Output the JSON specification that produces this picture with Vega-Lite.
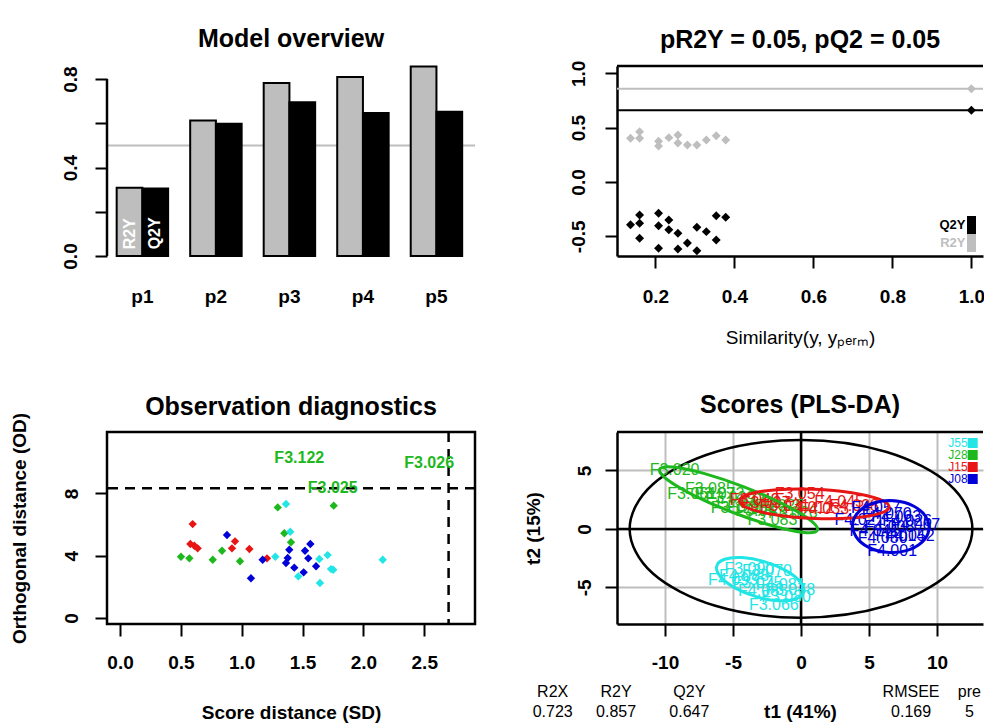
{
  "$schema": "https://vega.github.io/schema/vega-lite/v6.json",
  "background": "white",
  "padding": {"left": 8, "top": 27, "right": 0, "bottom": 0},
  "columns": 2,
  "spacing": {"row": 176, "column": 142},
  "bounds": "flush",
  "align": "each",
  "resolve": {
    "scale": {"color": "independent", "fill": "independent", "stroke": "independent"},
    "legend": {"color": "independent", "fill": "independent", "stroke": "independent"}
  },
  "datasets": {
    "overview": [
      {"comp": "p1", "metric": "R2Y", "value": 0.308}, {"comp": "p1", "metric": "Q2Y", "value": 0.305},
      {"comp": "p2", "metric": "R2Y", "value": 0.613}, {"comp": "p2", "metric": "Q2Y", "value": 0.598},
      {"comp": "p3", "metric": "R2Y", "value": 0.782}, {"comp": "p3", "metric": "Q2Y", "value": 0.695},
      {"comp": "p4", "metric": "R2Y", "value": 0.809}, {"comp": "p4", "metric": "Q2Y", "value": 0.647},
      {"comp": "p5", "metric": "R2Y", "value": 0.857}, {"comp": "p5", "metric": "Q2Y", "value": 0.652}
    ],
    "perm": [
      {"sim": 0.137, "metric": "R2Y", "value": 0.402}, {"sim": 0.160, "metric": "R2Y", "value": 0.463},
      {"sim": 0.160, "metric": "R2Y", "value": 0.402}, {"sim": 0.208, "metric": "R2Y", "value": 0.375},
      {"sim": 0.208, "metric": "R2Y", "value": 0.330}, {"sim": 0.234, "metric": "R2Y", "value": 0.408},
      {"sim": 0.257, "metric": "R2Y", "value": 0.432}, {"sim": 0.257, "metric": "R2Y", "value": 0.359},
      {"sim": 0.281, "metric": "R2Y", "value": 0.340}, {"sim": 0.305, "metric": "R2Y", "value": 0.340},
      {"sim": 0.329, "metric": "R2Y", "value": 0.386}, {"sim": 0.354, "metric": "R2Y", "value": 0.426},
      {"sim": 0.378, "metric": "R2Y", "value": 0.386}, {"sim": 1.0, "metric": "R2Y", "value": 0.857},
      {"sim": 0.137, "metric": "Q2Y", "value": -0.393}, {"sim": 0.160, "metric": "Q2Y", "value": -0.304},
      {"sim": 0.160, "metric": "Q2Y", "value": -0.380}, {"sim": 0.160, "metric": "Q2Y", "value": -0.518},
      {"sim": 0.208, "metric": "Q2Y", "value": -0.288}, {"sim": 0.208, "metric": "Q2Y", "value": -0.402},
      {"sim": 0.208, "metric": "Q2Y", "value": -0.610}, {"sim": 0.234, "metric": "Q2Y", "value": -0.350},
      {"sim": 0.234, "metric": "Q2Y", "value": -0.439}, {"sim": 0.257, "metric": "Q2Y", "value": -0.472},
      {"sim": 0.257, "metric": "Q2Y", "value": -0.616}, {"sim": 0.281, "metric": "Q2Y", "value": -0.561},
      {"sim": 0.305, "metric": "Q2Y", "value": -0.417}, {"sim": 0.305, "metric": "Q2Y", "value": -0.632},
      {"sim": 0.329, "metric": "Q2Y", "value": -0.457}, {"sim": 0.354, "metric": "Q2Y", "value": -0.310},
      {"sim": 0.354, "metric": "Q2Y", "value": -0.534}, {"sim": 0.378, "metric": "Q2Y", "value": -0.325},
      {"sim": 1.0, "metric": "Q2Y", "value": 0.66}
    ],
    "diag": [
      {"group": "J15", "sd": 0.597, "od": 6.03}, {"group": "J15", "sd": 0.578, "od": 4.75},
      {"group": "J15", "sd": 0.611, "od": 4.64}, {"group": "J15", "sd": 0.638, "od": 4.47},
      {"group": "J15", "sd": 0.945, "od": 4.92}, {"group": "J15", "sd": 0.920, "od": 4.47},
      {"group": "J15", "sd": 1.063, "od": 4.43}, {"group": "J15", "sd": 1.208, "od": 3.83},
      {"group": "J08", "sd": 0.879, "od": 5.33}, {"group": "J08", "sd": 1.172, "od": 3.74},
      {"group": "J08", "sd": 1.076, "od": 2.55}, {"group": "J08", "sd": 1.391, "od": 4.38},
      {"group": "J08", "sd": 1.564, "od": 4.75}, {"group": "J08", "sd": 1.520, "od": 4.32},
      {"group": "J08", "sd": 1.378, "od": 3.85}, {"group": "J08", "sd": 1.547, "od": 3.83},
      {"group": "J08", "sd": 1.364, "od": 3.53}, {"group": "J08", "sd": 1.432, "od": 3.23},
      {"group": "J08", "sd": 1.509, "od": 2.93}, {"group": "J08", "sd": 1.611, "od": 3.32},
      {"group": "J28", "sd": 0.501, "od": 3.93}, {"group": "J28", "sd": 0.570, "od": 3.83},
      {"group": "J28", "sd": 0.762, "od": 3.74}, {"group": "J28", "sd": 0.838, "od": 4.32},
      {"group": "J28", "sd": 0.986, "od": 3.64}, {"group": "J28", "sd": 1.296, "od": 7.10},
      {"group": "J28", "sd": 1.756, "od": 7.21}, {"group": "J28", "sd": 1.350, "od": 5.44},
      {"group": "J28", "sd": 1.405, "od": 4.86},
      {"group": "J55", "sd": 1.364, "od": 7.32}, {"group": "J55", "sd": 1.399, "od": 5.54},
      {"group": "J55", "sd": 1.276, "od": 3.93}, {"group": "J55", "sd": 1.638, "od": 3.79},
      {"group": "J55", "sd": 1.706, "od": 4.04}, {"group": "J55", "sd": 1.734, "od": 3.14},
      {"group": "J55", "sd": 1.752, "od": 3.10}, {"group": "J55", "sd": 1.465, "od": 2.67},
      {"group": "J55", "sd": 1.643, "od": 2.25}, {"group": "J55", "sd": 2.159, "od": 3.74}
    ],
    "outliers": [
      {"label": "F3.122", "group": "J28", "sd": 1.473, "od": 10.24},
      {"label": "F3.026", "group": "J28", "sd": 2.54, "od": 9.98},
      {"label": "F3.025", "group": "J28", "sd": 1.748, "od": 8.33}
    ],
    "scores": [
      {"sample": "F3.020", "group": "J28", "t1": -9.3, "t2": 5.0},
      {"sample": "F3.085", "group": "J28", "t1": -6.7, "t2": 3.4},
      {"sample": "F3.061", "group": "J28", "t1": -8.0, "t2": 3.0},
      {"sample": "F3.072", "group": "J28", "t1": -6.0, "t2": 3.0},
      {"sample": "F3.039", "group": "J28", "t1": -5.2, "t2": 2.6},
      {"sample": "F3.044", "group": "J28", "t1": -4.4, "t2": 2.2},
      {"sample": "F3.091", "group": "J28", "t1": -3.6, "t2": 1.9},
      {"sample": "F3.083", "group": "J28", "t1": -2.1, "t2": 0.8},
      {"sample": "F3.025", "group": "J28", "t1": -1.6, "t2": 2.0},
      {"sample": "F3.026", "group": "J28", "t1": -0.6, "t2": 1.4},
      {"sample": "F3.122", "group": "J28", "t1": -4.8, "t2": 1.8},
      {"sample": "F3.057", "group": "J28", "t1": -3.0, "t2": 1.5},
      {"sample": "F3.054", "group": "J15", "t1": -0.1, "t2": 3.0},
      {"sample": "F4.045", "group": "J15", "t1": 2.8, "t2": 2.3},
      {"sample": "F3.097", "group": "J15", "t1": -2.6, "t2": 2.2},
      {"sample": "F3.031", "group": "J15", "t1": -1.2, "t2": 2.0},
      {"sample": "F4.012", "group": "J15", "t1": 0.6, "t2": 1.8},
      {"sample": "F4.033", "group": "J15", "t1": 1.7, "t2": 1.7},
      {"sample": "F4.038", "group": "J15", "t1": 3.9, "t2": 2.0},
      {"sample": "F3.049", "group": "J15", "t1": -3.4, "t2": 2.5},
      {"sample": "F4.001", "group": "J08", "t1": 6.7, "t2": -1.9},
      {"sample": "F4.067", "group": "J08", "t1": 8.4, "t2": 0.3},
      {"sample": "F4.021", "group": "J08", "t1": 4.3, "t2": 0.8},
      {"sample": "F4.057", "group": "J08", "t1": 5.5, "t2": 1.8},
      {"sample": "F4.008", "group": "J08", "t1": 6.5, "t2": 0.2},
      {"sample": "F4.014", "group": "J08", "t1": 7.3, "t2": -0.6},
      {"sample": "F4.026", "group": "J08", "t1": 7.8, "t2": 0.7},
      {"sample": "F4.030", "group": "J08", "t1": 6.0, "t2": -0.8},
      {"sample": "F4.041", "group": "J08", "t1": 5.4, "t2": -0.2},
      {"sample": "F4.052", "group": "J08", "t1": 8.0, "t2": -0.6},
      {"sample": "F4.063", "group": "J08", "t1": 7.0, "t2": 1.0},
      {"sample": "F4.070", "group": "J08", "t1": 6.3, "t2": 1.3},
      {"sample": "F3.090", "group": "J55", "t1": -3.8, "t2": -3.4},
      {"sample": "F4.093", "group": "J55", "t1": -5.0, "t2": -4.4},
      {"sample": "F3.066", "group": "J55", "t1": -2.0, "t2": -6.5},
      {"sample": "F3.070", "group": "J55", "t1": -2.5, "t2": -3.6},
      {"sample": "F3.075", "group": "J55", "t1": -3.2, "t2": -4.6},
      {"sample": "F4.081", "group": "J55", "t1": -1.5, "t2": -4.8},
      {"sample": "F4.085", "group": "J55", "t1": -2.8, "t2": -5.3},
      {"sample": "F3.078", "group": "J55", "t1": -0.8, "t2": -5.2},
      {"sample": "F4.088", "group": "J55", "t1": -4.2, "t2": -4.0},
      {"sample": "F3.080", "group": "J55", "t1": -1.1, "t2": -5.8}
    ],
    "ellipses": [
      {"group": "J28", "k": 0, "t1": 1.2, "t2": -0.1}, {"group": "J28", "k": 1, "t1": 0.62, "t2": 0.8},
      {"group": "J28", "k": 2, "t1": -1.35, "t2": 2.15}, {"group": "J28", "k": 3, "t1": -4.2, "t2": 3.6},
      {"group": "J28", "k": 4, "t1": -7.15, "t2": 4.75}, {"group": "J28", "k": 5, "t1": -9.42, "t2": 5.3},
      {"group": "J28", "k": 6, "t1": -10.4, "t2": 5.1}, {"group": "J28", "k": 7, "t1": -9.82, "t2": 4.2},
      {"group": "J28", "k": 8, "t1": -7.85, "t2": 2.85}, {"group": "J28", "k": 9, "t1": -5.0, "t2": 1.4},
      {"group": "J28", "k": 10, "t1": -2.05, "t2": 0.25}, {"group": "J28", "k": 11, "t1": 0.22, "t2": -0.3},
      {"group": "J15", "k": 0, "t1": 6.48, "t2": 1.89}, {"group": "J15", "k": 1, "t1": 5.74, "t2": 2.55},
      {"group": "J15", "k": 2, "t1": 3.73, "t2": 3.1}, {"group": "J15", "k": 3, "t1": 0.98, "t2": 3.39},
      {"group": "J15", "k": 4, "t1": -1.77, "t2": 3.35}, {"group": "J15", "k": 5, "t1": -3.78, "t2": 2.98},
      {"group": "J15", "k": 6, "t1": -4.52, "t2": 2.39}, {"group": "J15", "k": 7, "t1": -3.78, "t2": 1.73},
      {"group": "J15", "k": 8, "t1": -1.77, "t2": 1.18}, {"group": "J15", "k": 9, "t1": 0.98, "t2": 0.89},
      {"group": "J15", "k": 10, "t1": 3.73, "t2": 0.93}, {"group": "J15", "k": 11, "t1": 5.74, "t2": 1.3},
      {"group": "J08", "k": 0, "t1": 9.4, "t2": -0.1}, {"group": "J08", "k": 1, "t1": 9.18, "t2": 1.04},
      {"group": "J08", "k": 2, "t1": 8.26, "t2": 1.96}, {"group": "J08", "k": 3, "t1": 6.9, "t2": 2.4},
      {"group": "J08", "k": 4, "t1": 5.46, "t2": 2.26}, {"group": "J08", "k": 5, "t1": 4.33, "t2": 1.56},
      {"group": "J08", "k": 6, "t1": 3.8, "t2": 0.5}, {"group": "J08", "k": 7, "t1": 4.03, "t2": -0.64},
      {"group": "J08", "k": 8, "t1": 4.94, "t2": -1.56}, {"group": "J08", "k": 9, "t1": 6.3, "t2": -2.0},
      {"group": "J08", "k": 10, "t1": 7.74, "t2": -1.86}, {"group": "J08", "k": 11, "t1": 8.88, "t2": -1.16},
      {"group": "J55", "k": 0, "t1": 0.2, "t2": -5.4}, {"group": "J55", "k": 1, "t1": -0.08, "t2": -4.5},
      {"group": "J55", "k": 2, "t1": -1.14, "t2": -3.55}, {"group": "J55", "k": 3, "t1": -2.7, "t2": -2.8},
      {"group": "J55", "k": 4, "t1": -4.34, "t2": -2.45}, {"group": "J55", "k": 5, "t1": -5.62, "t2": -2.6},
      {"group": "J55", "k": 6, "t1": -6.2, "t2": -3.2}, {"group": "J55", "k": 7, "t1": -5.92, "t2": -4.1},
      {"group": "J55", "k": 8, "t1": -4.86, "t2": -5.05}, {"group": "J55", "k": 9, "t1": -3.3, "t2": -5.8},
      {"group": "J55", "k": 10, "t1": -1.66, "t2": -6.15}, {"group": "J55", "k": 11, "t1": -0.38, "t2": -6.0}
    ],
    "hotelling": [
      {"k": 0, "t1": 12.6, "t2": 0}, {"k": 1, "t1": 10.91, "t2": 3.8}, {"k": 2, "t1": 6.3, "t2": 6.58},
      {"k": 3, "t1": 0, "t2": 7.6}, {"k": 4, "t1": -6.3, "t2": 6.58}, {"k": 5, "t1": -10.91, "t2": 3.8},
      {"k": 6, "t1": -12.6, "t2": 0}, {"k": 7, "t1": -10.91, "t2": -3.8}, {"k": 8, "t1": -6.3, "t2": -6.58},
      {"k": 9, "t1": 0, "t2": -7.6}, {"k": 10, "t1": 6.3, "t2": -6.58}, {"k": 11, "t1": 10.91, "t2": -3.8}
    ],
    "stats": [
      {"stat": "R2X", "value": "0.723"}, {"stat": "R2Y", "value": "0.857"}, {"stat": "Q2Y", "value": "0.647"},
      {"stat": "RMSEE", "value": "0.169"}, {"stat": "pre", "value": "5"}
    ]
  },
  "concat": [
    {
      "width": 368,
      "height": 190,
      "title": "Model overview",
      "layer": [
        {
          "data": {"name": "overview"},
          "layer": [
            {"data": {"values": [{}]}, "mark": {"type": "rule", "color": "#BEBEBE", "strokeWidth": 2}, "encoding": {"y": {"datum": 0.5}}},
            {
              "mark": {"type": "bar", "stroke": "black", "strokeWidth": 2, "opacity": 1},
              "encoding": {
                "x": {"field": "comp", "type": "nominal", "scale": {"paddingInner": 0.3, "paddingOuter": 0.153, "align": 0.43},
                  "axis": {"title": null, "ticks": false, "tickSize": 0, "domain": false, "labelAngle": 0, "labelPadding": 40, "labelBaseline": "middle"}},
                "xOffset": {"field": "metric", "type": "nominal", "scale": {"domain": ["R2Y", "Q2Y"]}},
                "y": {"field": "value", "type": "quantitative", "scale": {"domain": [0, 0.859], "nice": false},
                  "axis": {"title": null, "values": [0, 0.2, 0.4, 0.6, 0.8], "tickSize": 12, "domain": false, "labelAngle": 270, "labelAlign": "center", "labelBaseline": "middle", "labelPadding": 25,
                    "labelExpr": "datum.value === 0.2 || datum.value === 0.6 ? '' : format(datum.value, '.1f')"}},
                "fill": {"field": "metric", "type": "nominal", "scale": {"domain": ["R2Y", "Q2Y"], "range": ["#BEBEBE", "black"]}, "legend": null}
              }
            },
            {
              "transform": [{"filter": "datum.comp === 'p1'"}],
              "mark": {"type": "text", "angle": 270, "align": "left", "baseline": "middle", "fill": "white", "fontWeight": "bold", "fontSize": 16},
              "encoding": {
                "x": {"field": "comp", "type": "nominal"},
                "xOffset": {"field": "metric", "type": "nominal"},
                "y": {"datum": 0.03},
                "text": {"field": "metric"}
              }
            }
          ]
        },
        {
          "data": {"values": [{}]},
          "mark": {"type": "rule", "color": "black", "strokeWidth": 2.5},
          "encoding": {
            "x": {"datum": 0, "type": "quantitative", "scale": {"domain": [0, 1]}, "axis": null},
            "y": {"datum": 0},
            "y2": {"datum": 0.8}
          }
        }
      ],
      "resolve": {"scale": {"x": "independent"}}
    },
    {
      "width": 366,
      "height": 190,
      "title": {"text": "pR2Y = 0.05, pQ2 = 0.05", "offset": 7},
      "layer": [
        {"data": {"values": [{}]}, "mark": {"type": "rule", "color": "black", "strokeWidth": 2.5}, "encoding": {"y": {"datum": 1.067}}},
        {"data": {"values": [{}]}, "mark": {"type": "rule", "color": "#BEBEBE", "strokeWidth": 2}, "encoding": {"y": {"datum": 0.857}}},
        {"data": {"values": [{}]}, "mark": {"type": "rule", "color": "black", "strokeWidth": 2}, "encoding": {"y": {"datum": 0.66}}},
        {
          "data": {"name": "perm"},
          "mark": {"type": "point", "shape": "diamond", "filled": true, "size": 80, "opacity": 1},
          "encoding": {
            "x": {"field": "sim", "type": "quantitative", "scale": {"domain": [0.1028, 1.0294], "nice": false, "zero": false},
              "axis": {"title": "Similarity(y, yₚₑᵣₘ)", "titleFontWeight": "normal", "titleX": 183, "titleY": 81, "titleBaseline": "middle", "titleAlign": "center",
                "values": [0.2, 0.4, 0.6, 0.8, 1.0], "format": ".1f", "tickSize": 12, "labelPadding": 28, "labelBaseline": "middle"}},
            "y": {"field": "value", "type": "quantitative", "scale": {"domain": [-0.681, 1.067], "nice": false, "zero": false},
              "axis": {"title": null, "values": [-0.5, 0, 0.5, 1], "format": ".1f", "labelExpr": "replace(datum.label, '−', '-')", "tickSize": 12, "labelAngle": 270, "labelAlign": "center", "labelBaseline": "middle", "labelPadding": 27}},
            "color": {"field": "metric", "type": "nominal", "scale": {"domain": ["Q2Y", "R2Y"], "range": ["black", "#BEBEBE"]},
              "legend": {"title": null, "orient": "none", "legendX": 345.5, "legendY": 150, "symbolType": "M-0.5,-1L0.5,-1L0.5,1L-0.5,1Z", "symbolSize": 324,
                "symbolStrokeWidth": 0, "symbolOpacity": 1, "labelAlign": "right", "labelOffset": -15, "labelFontSize": 13, "labelFontWeight": "bold", "rowPadding": 0, "padding": 0,
                "labelColor": {"expr": "datum.value === 'R2Y' ? '#BEBEBE' : 'black'"}}}
          }
        }
      ]
    },
    {
      "width": 368,
      "height": 192,
      "title": {"text": "Observation diagnostics", "offset": -8},
      "view": {"stroke": "black", "strokeWidth": 2.5},
      "layer": [
        {"data": {"values": [{}]}, "mark": {"type": "rule", "color": "black", "strokeWidth": 2.5, "strokeDash": [10, 7]}, "encoding": {"y": {"datum": 8.33}}},
        {"data": {"values": [{}]}, "mark": {"type": "rule", "color": "black", "strokeWidth": 2.5, "strokeDash": [10, 7]}, "encoding": {"x": {"datum": 2.7}}},
        {
          "data": {"name": "diag"},
          "mark": {"type": "point", "shape": "diamond", "filled": true, "size": 70, "opacity": 1},
          "encoding": {
            "x": {"field": "sd", "type": "quantitative", "scale": {"domain": [-0.107, 2.917], "nice": false, "zero": false},
              "axis": {"title": "Score distance (SD)", "titleX": 184, "titleY": 88, "titleBaseline": "middle", "titleAlign": "center", "domain": false,
                "values": [0, 0.5, 1, 1.5, 2, 2.5], "format": ".1f", "tickSize": 12, "labelPadding": 26, "labelBaseline": "middle"}},
            "y": {"field": "od", "type": "quantitative", "scale": {"domain": [-0.385, 11.94], "nice": false, "zero": false},
              "axis": {"title": "Orthogonal distance (OD)", "titleX": -88, "titleY": 96, "titleAngle": 270, "titleBaseline": "middle", "titleAlign": "center", "domain": false,
                "values": [0, 2, 4, 6, 8, 10], "labelExpr": "datum.value === 10 ? '' : datum.label", "tickSize": 12, "labelAngle": 270, "labelAlign": "center", "labelBaseline": "middle", "labelPadding": 24}},
            "color": {"field": "group", "type": "nominal", "scale": {"domain": ["J08", "J15", "J28", "J55"], "range": ["#0000D8", "#E81515", "#1DB81D", "#22E5E5"]}, "legend": null}
          }
        },
        {
          "data": {"name": "outliers"},
          "mark": {"type": "text", "fontSize": 16, "fontWeight": "bold"},
          "encoding": {
            "x": {"field": "sd", "type": "quantitative"},
            "y": {"field": "od", "type": "quantitative"},
            "color": {"field": "group", "type": "nominal", "legend": null},
            "text": {"field": "label"}
          }
        }
      ]
    },
    {
      "width": 366,
      "height": 192,
      "title": "Scores (PLS-DA)",
      "layer": [
        {"data": {"values": [{}]}, "mark": {"type": "rule", "color": "black", "strokeWidth": 2.5}, "encoding": {"y": {"datum": 8.29}}},
        {
          "data": {"name": "hotelling"},
          "mark": {"type": "line", "interpolate": "cardinal-closed", "color": "black", "strokeWidth": 2.5},
          "encoding": {
            "x": {"field": "t1", "type": "quantitative", "scale": {"domain": [-13.53, 13.38], "nice": false, "zero": false},
              "axis": {"title": "t1 (41%)", "titleX": 183, "titleY": 87, "titleBaseline": "middle", "titleAlign": "center",
                "values": [-10, -5, 0, 5, 10], "format": "d", "labelExpr": "replace(datum.label, '−', '-')", "tickSize": 12, "labelPadding": 26, "labelBaseline": "middle",
                "grid": true, "gridColor": "#BEBEBE", "gridWidth": 2}},
            "y": {"field": "t2", "type": "quantitative", "scale": {"domain": [-8.14, 8.29], "nice": false, "zero": false},
              "axis": {"title": "t2 (15%)", "titleX": -84, "titleY": 96, "titleAngle": 270, "titleBaseline": "middle", "titleAlign": "center",
                "values": [-5, 0, 5], "format": "d", "labelExpr": "replace(datum.label, '−', '-')", "tickSize": 12, "labelAngle": 270, "labelAlign": "center", "labelBaseline": "middle", "labelPadding": 21,
                "grid": true, "gridColor": "#BEBEBE", "gridWidth": 2}},
            "order": {"field": "k", "type": "quantitative"}
          }
        },
        {"data": {"values": [{}]}, "mark": {"type": "rule", "color": "black", "strokeWidth": 2.5}, "encoding": {"x": {"datum": 0}}},
        {"data": {"values": [{}]}, "mark": {"type": "rule", "color": "black", "strokeWidth": 2.5}, "encoding": {"y": {"datum": 0}}},
        {
          "data": {"name": "scores"},
          "mark": {"type": "text", "fontSize": 16},
          "encoding": {
            "x": {"field": "t1", "type": "quantitative"},
            "y": {"field": "t2", "type": "quantitative"},
            "text": {"field": "sample"},
            "color": {"field": "group", "type": "nominal", "scale": {"domain": ["J55", "J28", "J15", "J08"], "range": ["#22E5E5", "#1DB81D", "#E81515", "#0000D8"]},
              "legend": {"title": null, "orient": "none", "legendX": 349.7, "legendY": 5, "symbolType": "square", "symbolSize": 100, "symbolStrokeWidth": 0, "symbolOpacity": 1,
                "labelAlign": "right", "labelOffset": -11, "labelFontSize": 12, "labelFontWeight": "normal", "rowPadding": -2, "padding": 0,
                "labelColor": {"expr": "datum.value === 'J55' ? '#22E5E5' : datum.value === 'J28' ? '#1DB81D' : datum.value === 'J15' ? '#E81515' : '#0000D8'"}}}
          }
        },
        {
          "data": {"name": "ellipses"},
          "mark": {"type": "line", "interpolate": "cardinal-closed", "strokeWidth": 3},
          "encoding": {
            "x": {"field": "t1", "type": "quantitative"},
            "y": {"field": "t2", "type": "quantitative"},
            "color": {"field": "group", "type": "nominal"},
            "detail": {"field": "group", "type": "nominal"},
            "order": {"field": "k", "type": "quantitative"}
          }
        },
        {
          "data": {"name": "stats"},
          "transform": [{"filter": "datum.stat === 'R2X'"}],
          "encoding": {"x": {"datum": -18.26}},
          "layer": [
            {"mark": {"type": "text", "fontSize": 16, "baseline": "middle"}, "encoding": {"y": {"datum": -13.99}, "text": {"field": "stat"}}},
            {"mark": {"type": "text", "fontSize": 16, "baseline": "middle"}, "encoding": {"y": {"datum": -15.7}, "text": {"field": "value"}}}
          ]
        },
        {
          "data": {"name": "stats"},
          "transform": [{"filter": "datum.stat === 'R2Y'"}],
          "encoding": {"x": {"datum": -13.6}},
          "layer": [
            {"mark": {"type": "text", "fontSize": 16, "baseline": "middle"}, "encoding": {"y": {"datum": -13.99}, "text": {"field": "stat"}}},
            {"mark": {"type": "text", "fontSize": 16, "baseline": "middle"}, "encoding": {"y": {"datum": -15.7}, "text": {"field": "value"}}}
          ]
        },
        {
          "data": {"name": "stats"},
          "transform": [{"filter": "datum.stat === 'Q2Y'"}],
          "encoding": {"x": {"datum": -8.21}},
          "layer": [
            {"mark": {"type": "text", "fontSize": 16, "baseline": "middle"}, "encoding": {"y": {"datum": -13.99}, "text": {"field": "stat"}}},
            {"mark": {"type": "text", "fontSize": 16, "baseline": "middle"}, "encoding": {"y": {"datum": -15.7}, "text": {"field": "value"}}}
          ]
        },
        {
          "data": {"name": "stats"},
          "transform": [{"filter": "datum.stat === 'RMSEE'"}],
          "encoding": {"x": {"datum": 8.09}},
          "layer": [
            {"mark": {"type": "text", "fontSize": 16, "baseline": "middle"}, "encoding": {"y": {"datum": -13.99}, "text": {"field": "stat"}}},
            {"mark": {"type": "text", "fontSize": 16, "baseline": "middle"}, "encoding": {"y": {"datum": -15.7}, "text": {"field": "value"}}}
          ]
        },
        {
          "data": {"name": "stats"},
          "transform": [{"filter": "datum.stat === 'pre'"}],
          "encoding": {"x": {"datum": 12.38}},
          "layer": [
            {"mark": {"type": "text", "fontSize": 16, "baseline": "middle"}, "encoding": {"y": {"datum": -13.99}, "text": {"field": "stat"}}},
            {"mark": {"type": "text", "fontSize": 16, "baseline": "middle"}, "encoding": {"y": {"datum": -15.7}, "text": {"field": "value"}}}
          ]
        }
      ]
    }
  ],
  "config": {
    "font": "Liberation Sans",
    "view": {"stroke": null},
    "text": {"font": "Liberation Sans", "color": "black"},
    "axis": {
      "labelFont": "Liberation Sans", "labelFontSize": 19, "labelFontWeight": "bold", "labelColor": "black",
      "titleFont": "Liberation Sans", "titleFontSize": 19, "titleFontWeight": "bold", "titleColor": "black",
      "domainColor": "black", "domainWidth": 2.5, "tickColor": "black", "tickWidth": 2,
      "grid": false, "labelOverlap": false, "labelFlush": false
    },
    "title": {"font": "Liberation Sans", "fontSize": 25, "fontWeight": "bold", "color": "black", "anchor": "middle", "frame": "group", "baseline": "alphabetic", "offset": 13},
    "legend": {"labelFont": "Liberation Sans"}
  }
}
